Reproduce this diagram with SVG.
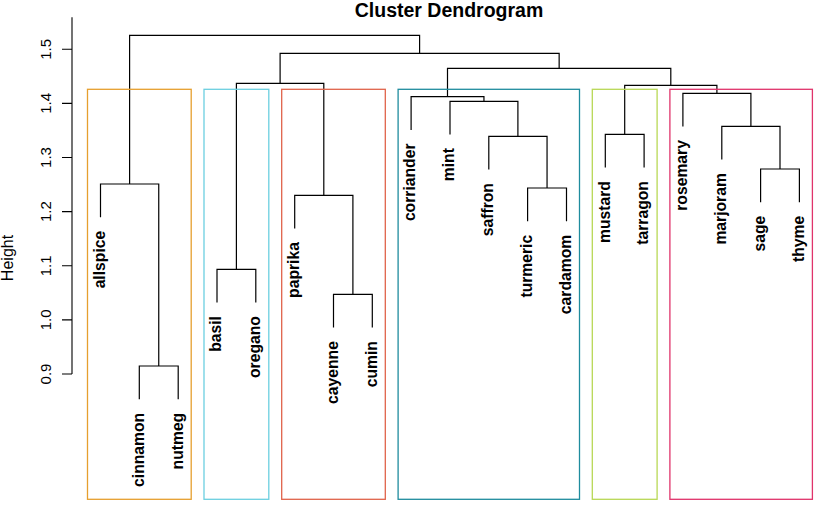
<svg xmlns="http://www.w3.org/2000/svg" width="829" height="506" viewBox="0 0 829 506">
<style>
.title{font-family:"Liberation Sans",Arial,sans-serif;font-weight:bold;font-size:19.5px;text-anchor:middle}
.axis{font-family:"Liberation Sans",Arial,sans-serif;font-size:15px;text-anchor:middle}
.ylab{font-family:"Liberation Sans",Arial,sans-serif;font-size:16px;text-anchor:middle}
.leaf{font-family:"Liberation Sans",Arial,sans-serif;font-weight:bold;font-size:15.7px;text-anchor:end}
.tree path{fill:none;stroke:#000;stroke-width:1.2}
.box{fill:none;stroke-width:1.3}
</style>
<rect width="829" height="506" fill="#fff"/>
<text class="title" x="449" y="16.5">Cluster Dendrogram</text>
<g id="axis" stroke="#000" stroke-width="1.1" fill="none">
<path d="M72 17.3V374M62 49.3H72M62 103.4H72M62 157.5H72M62 211.6H72M62 265.8H72M62 319.9H72M62 374H72"/>
</g>
<g id="axis-labels" class="axis">
<text transform="translate(50.5,49.3) rotate(-90)">1.5</text>
<text transform="translate(50.5,103.4) rotate(-90)">1.4</text>
<text transform="translate(50.5,157.5) rotate(-90)">1.3</text>
<text transform="translate(50.5,211.6) rotate(-90)">1.2</text>
<text transform="translate(50.5,265.8) rotate(-90)">1.1</text>
<text transform="translate(50.5,319.9) rotate(-90)">1.0</text>
<text transform="translate(50.5,374) rotate(-90)">0.9</text>
</g>
<text class="ylab" transform="translate(13,258) rotate(-90)">Height</text>
<g id="connectors" class="tree">
<path d="M129.6 184V35.3H419.6V53.3"/>
<path d="M280.1 83.3V53.3H559.15V68.3"/>
<path d="M236.4 269.3V83.3H323.8V195.3"/>
<path d="M447.5 96.7V68.3H670.8V85.3"/>
<path d="M411.1 130V96.7H483.95V101.3"/>
<path d="M450 134.6V101.3H517.9V136.3"/>
<path d="M488.8 169.6V136.3H547.05V188"/>
<path d="M527.6 221.3V188H566.5V221.3"/>
<path d="M624.7 134.3V85.3H716.9V93.3"/>
<path d="M605.3 167.6V134.3H644.1V167.6"/>
<path d="M682.9 126.6V93.3H750.9V126.3"/>
<path d="M721.8 159.6V126.3H780V169"/>
<path d="M760.6 202.3V169H799.4V202.3"/>
<path d="M100.5 217.3V184H158.75V366"/>
<path d="M139.3 399.3V366H178.2V399.3"/>
<path d="M217 302.6V269.3H255.8V302.6"/>
<path d="M294.7 228.6V195.3H352.9V294.3"/>
<path d="M333.5 327.6V294.3H372.3V327.6"/>
</g>
<g id="clusters">
<rect id="cluster1" class="box" x="87.5" y="89.3" width="103.7" height="410" stroke="#E69F2E"/>
<rect id="cluster2" class="box" x="204" y="89.3" width="64.8" height="410" stroke="#6CCFE0"/>
<rect id="cluster3" class="box" x="281.7" y="89.3" width="103.6" height="410" stroke="#E0634A"/>
<rect id="cluster4" class="box" x="398.1" y="89.3" width="181.4" height="410" stroke="#1F8C9E"/>
<rect id="cluster5" class="box" x="592.3" y="89.3" width="64.8" height="410" stroke="#B8D855"/>
<rect id="cluster6" class="box" x="669.9" y="89.3" width="142.5" height="410" stroke="#E0336B"/>
</g>
<g id="leaves" class="leaf">
<g id="n-allspice"><text transform="translate(100.5,230.8) rotate(-90)" dy="4.3">allspice</text></g>
<g id="n-cinnamon"><text transform="translate(139.3,412.8) rotate(-90)" dy="4.3">cinnamon</text></g>
<g id="n-nutmeg"><text transform="translate(178.2,412.8) rotate(-90)" dy="4.3">nutmeg</text></g>
<g id="n-basil"><text transform="translate(217,316.1) rotate(-90)" dy="4.3">basil</text></g>
<g id="n-oregano"><text transform="translate(255.8,316.1) rotate(-90)" dy="4.3">oregano</text></g>
<g id="n-paprika"><text transform="translate(294.7,242.1) rotate(-90)" dy="4.3">paprika</text></g>
<g id="n-cayenne"><text transform="translate(333.5,341.1) rotate(-90)" dy="4.3">cayenne</text></g>
<g id="n-cumin"><text transform="translate(372.3,341.1) rotate(-90)" dy="4.3">cumin</text></g>
<g id="n-corriander"><text transform="translate(411.1,143.5) rotate(-90)" dy="4.3">corriander</text></g>
<g id="n-mint"><text transform="translate(450,148.1) rotate(-90)" dy="4.3">mint</text></g>
<g id="n-saffron"><text transform="translate(488.8,183.1) rotate(-90)" dy="4.3">saffron</text></g>
<g id="n-turmeric"><text transform="translate(527.6,234.8) rotate(-90)" dy="4.3">turmeric</text></g>
<g id="n-cardamom"><text transform="translate(566.5,234.8) rotate(-90)" dy="4.3">cardamom</text></g>
<g id="n-mustard"><text transform="translate(605.3,181.1) rotate(-90)" dy="4.3">mustard</text></g>
<g id="n-tarragon"><text transform="translate(644.1,181.1) rotate(-90)" dy="4.3">tarragon</text></g>
<g id="n-rosemary"><text transform="translate(682.9,140.1) rotate(-90)" dy="4.3">rosemary</text></g>
<g id="n-marjoram"><text transform="translate(721.8,173.1) rotate(-90)" dy="4.3">marjoram</text></g>
<g id="n-sage"><text transform="translate(760.6,215.8) rotate(-90)" dy="4.3">sage</text></g>
<g id="n-thyme"><text transform="translate(799.4,215.8) rotate(-90)" dy="4.3">thyme</text></g>
</g>
</svg>
